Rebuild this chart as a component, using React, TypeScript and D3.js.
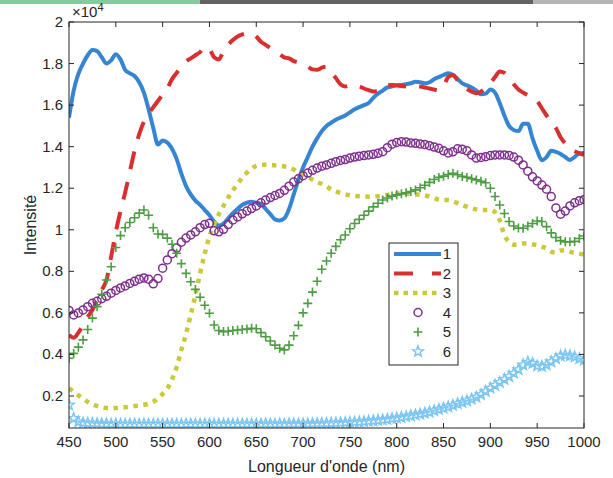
import React from "react";
import * as d3 from "d3";

// wavelengths (nm), one sample every 5 nm
const wavelengths = d3.range(450, 1001, 5);

// intensities, x10^4
const series1 = [
  1.54, 1.67, 1.75, 1.80, 1.84, 1.865, 1.86, 1.83, 1.80, 1.815,
  1.845, 1.82, 1.77, 1.753, 1.74, 1.71, 1.66, 1.58, 1.49, 1.41,
  1.43, 1.42, 1.39, 1.34, 1.27, 1.21, 1.17, 1.14, 1.12, 1.095,
  1.07, 1.04, 1.02, 1.03, 1.055, 1.08, 1.10, 1.12, 1.13, 1.135,
  1.13, 1.125, 1.10, 1.075, 1.05, 1.045, 1.055, 1.10, 1.17, 1.24,
  1.30, 1.35, 1.40, 1.44, 1.475, 1.50, 1.515, 1.53, 1.54, 1.55,
  1.565, 1.58, 1.59, 1.60, 1.61, 1.635, 1.655, 1.67, 1.685, 1.69,
  1.695, 1.697, 1.70, 1.705, 1.712, 1.71, 1.705, 1.71, 1.725, 1.735,
  1.745, 1.753, 1.745, 1.725, 1.705, 1.695, 1.685, 1.67, 1.652, 1.655,
  1.675, 1.66, 1.61, 1.55, 1.50, 1.48, 1.475, 1.51, 1.51, 1.44,
  1.38, 1.335, 1.35, 1.38, 1.375, 1.365, 1.35, 1.336, 1.35, 1.368,
  1.37,
];
const series2 = [
  0.494, 0.48, 0.505, 0.54, 0.58, 0.614, 0.66, 0.71, 0.758, 0.87,
  0.99, 1.09, 1.18, 1.28, 1.38, 1.46, 1.52, 1.56, 1.59, 1.62,
  1.65, 1.68, 1.725, 1.755, 1.785, 1.81, 1.825, 1.84, 1.855, 1.88,
  1.87, 1.83, 1.82, 1.86, 1.89, 1.913, 1.93, 1.94, 1.945, 1.946,
  1.93, 1.905, 1.89, 1.875, 1.86, 1.845, 1.83, 1.825, 1.812, 1.805,
  1.795, 1.785, 1.772, 1.77, 1.78, 1.785, 1.76, 1.73, 1.70, 1.69,
  1.695, 1.697, 1.69, 1.68, 1.672, 1.665, 1.667, 1.68, 1.695, 1.697,
  1.695, 1.692, 1.69, 1.688, 1.69, 1.689, 1.685, 1.68, 1.675, 1.672,
  1.69, 1.735, 1.745, 1.72, 1.695, 1.678, 1.665, 1.657, 1.665, 1.685,
  1.705, 1.735, 1.762, 1.755, 1.73, 1.70, 1.675, 1.66, 1.648, 1.635,
  1.62, 1.585, 1.55, 1.52, 1.49, 1.445, 1.415, 1.39, 1.378, 1.368,
  1.36,
];
const series3 = [
  0.237, 0.22, 0.203, 0.187, 0.172, 0.16, 0.152, 0.146, 0.142, 0.141,
  0.142, 0.144, 0.146, 0.149, 0.152, 0.155, 0.158, 0.163, 0.172, 0.188,
  0.21, 0.235, 0.28, 0.34, 0.422, 0.50, 0.59, 0.686, 0.79, 0.885,
  0.967, 1.025, 1.075, 1.115, 1.155, 1.19, 1.22, 1.25, 1.275, 1.295,
  1.308, 1.312, 1.313, 1.312, 1.31, 1.308, 1.305, 1.30, 1.29, 1.278,
  1.264, 1.253, 1.242, 1.23, 1.22, 1.208, 1.195, 1.185, 1.177, 1.17,
  1.167, 1.164, 1.161, 1.16, 1.159, 1.16, 1.162, 1.165, 1.168, 1.171,
  1.174, 1.175, 1.174, 1.172, 1.17, 1.168, 1.165, 1.16, 1.152, 1.145,
  1.143, 1.143, 1.137, 1.128, 1.118, 1.111, 1.104, 1.098, 1.095, 1.095,
  1.095, 1.085, 1.045, 0.975, 0.94, 0.928, 0.93, 0.934, 0.934, 0.93,
  0.926, 0.918, 0.911, 0.895, 0.89, 0.9, 0.902, 0.895, 0.888, 0.885,
  0.88,
];
const series4 = [
  0.612, 0.59, 0.60, 0.614, 0.63, 0.646, 0.656, 0.668, 0.68, 0.695,
  0.708, 0.72, 0.73, 0.742, 0.752, 0.762, 0.768, 0.762, 0.74, 0.765,
  0.815, 0.855, 0.885, 0.912, 0.94, 0.96, 0.975, 0.99, 1.01, 1.025,
  1.031, 0.995, 0.99, 1.002, 1.025, 1.047, 1.062, 1.077, 1.09, 1.102,
  1.115, 1.13, 1.143, 1.155, 1.165, 1.175, 1.19, 1.21, 1.23, 1.245,
  1.26, 1.273, 1.286, 1.297, 1.306, 1.312, 1.32, 1.328, 1.334, 1.338,
  1.345, 1.35, 1.354, 1.357, 1.36, 1.363, 1.368, 1.376, 1.395, 1.412,
  1.42, 1.424, 1.422, 1.418, 1.416, 1.413, 1.41, 1.405, 1.398, 1.392,
  1.38, 1.37, 1.375, 1.39, 1.388, 1.38, 1.36, 1.345, 1.348, 1.352,
  1.357, 1.36, 1.36, 1.36, 1.358, 1.35, 1.335, 1.312, 1.282, 1.255,
  1.235, 1.215, 1.195, 1.16, 1.105, 1.075, 1.09, 1.115, 1.13, 1.14,
  1.145,
];
const series5 = [
  0.382, 0.405, 0.435, 0.47, 0.52, 0.575, 0.63, 0.69, 0.758, 0.822,
  0.915, 0.972, 1.01, 1.035, 1.058, 1.08, 1.095, 1.07, 1.01, 0.98,
  0.978, 0.96, 0.93, 0.887, 0.837, 0.79, 0.75, 0.713, 0.675, 0.637,
  0.598, 0.542, 0.515, 0.51, 0.512, 0.515, 0.518, 0.52, 0.522, 0.526,
  0.524, 0.505, 0.485, 0.465, 0.445, 0.43, 0.422, 0.445, 0.49, 0.54,
  0.6, 0.646, 0.7, 0.752, 0.81, 0.85, 0.887, 0.92, 0.952, 0.975,
  1.005, 1.03, 1.05, 1.07, 1.09, 1.11, 1.128, 1.143, 1.153, 1.162,
  1.168, 1.173, 1.178, 1.184, 1.192, 1.202, 1.214, 1.228, 1.242, 1.252,
  1.258, 1.266, 1.272, 1.265, 1.257, 1.252, 1.246, 1.24, 1.233, 1.226,
  1.2, 1.16, 1.119, 1.078, 1.04, 1.018, 1.008, 1.007, 1.018, 1.03,
  1.042, 1.04, 1.015, 0.985, 0.963, 0.948, 0.942, 0.942, 0.944, 0.958,
  0.97,
];
const series6 = [
  0.157, 0.092, 0.076, 0.071, 0.069, 0.068, 0.067, 0.066, 0.066, 0.065,
  0.065, 0.065, 0.064, 0.065, 0.065, 0.064, 0.065, 0.065, 0.064, 0.065,
  0.065, 0.064, 0.065, 0.065, 0.064, 0.065, 0.065, 0.065, 0.064, 0.065,
  0.065, 0.064, 0.065, 0.065, 0.065, 0.064, 0.065, 0.065, 0.065, 0.065,
  0.065, 0.065, 0.066, 0.065, 0.065, 0.066, 0.065, 0.066, 0.066, 0.066,
  0.066, 0.066, 0.067, 0.067, 0.068, 0.068, 0.069, 0.07, 0.071, 0.072,
  0.073, 0.074, 0.075, 0.077, 0.079, 0.081, 0.083, 0.085, 0.088, 0.091,
  0.094, 0.097, 0.101, 0.105, 0.109, 0.113, 0.118, 0.123, 0.13, 0.136,
  0.142, 0.148, 0.155, 0.163, 0.17, 0.177, 0.185, 0.195, 0.207, 0.222,
  0.238, 0.252, 0.266, 0.28, 0.294, 0.31, 0.327, 0.35, 0.363, 0.357,
  0.345, 0.343, 0.35, 0.365, 0.38, 0.393, 0.397, 0.394, 0.388, 0.38,
  0.373,
];

const xTicks = [450, 500, 550, 600, 650, 700, 750, 800, 850, 900, 950, 1000];
const yTicks = [0.2, 0.4, 0.6, 0.8, 1, 1.2, 1.4, 1.6, 1.8, 2];
const legendLabels = ["1", "2", "3", "4", "5", "6"];

const W = 613;
const H = 478;
const box = { left: 69, right: 584, top: 22, bottom: 428 };
const font = "'Liberation Sans', Arial, sans-serif";
const ink = "#262626";

const c1 = "#3585d2";
const c2 = "#d8302f";
const c3 = "#c9c93a";
const c4 = "#7e2f8e";
const c5 = "#4e9d44";
const c6 = "#7dc6f2";

const starPath = (r: number) => {
  const pts: string[] = [];
  for (let i = 0; i < 10; i++) {
    const rad = i % 2 === 0 ? r : r * 0.42;
    const a = -Math.PI / 2 + (i * Math.PI) / 5;
    pts.push(`${(rad * Math.cos(a)).toFixed(2)},${(rad * Math.sin(a)).toFixed(2)}`);
  }
  return "M" + pts.join("L") + "Z";
};
const plus = "M-4.5,0H4.5M0,-4.5V4.5";

export default function App() {
  const x = d3.scaleLinear().domain([450, 1000]).range([box.left, box.right]);
  const y = d3.scaleLinear().domain([0.046, 2]).range([box.bottom, box.top]);

  const pts = (vals: number[]) => wavelengths.map((w, i) => [w, vals[i]] as [number, number]);
  const line = d3
    .line<[number, number]>()
    .x((d) => x(d[0]))
    .y((d) => y(d[1]))
    .curve(d3.curveMonotoneX);

  const star = starPath(5.5);
  const legX = 389;
  const legY = 243;
  const rowY = (i: number) => legY + 11 + i * 19.5;

  return (
    <svg
      width={W}
      height={H}
      style={{ position: "absolute", left: 0, top: 0, background: "#fff" }}
      fontFamily={font}
    >
      {/* screenshot strip at the top */}
      <rect x={0} y={0} width={200} height={4} fill="#86c99b" />
      <rect x={200} y={0} width={333} height={4} fill="#626262" />
      <rect x={533} y={0} width={80} height={4} fill="#b4b4b4" />

      <defs>
        <clipPath id="plot">
          <rect x={box.left} y={box.top} width={box.right - box.left} height={box.bottom - box.top} />
        </clipPath>
      </defs>

      <g clipPath="url(#plot)">
        <path d={line(pts(series1)) || ""} fill="none" stroke={c1} strokeWidth={4} />
        <path
          d={line(pts(series2)) || ""}
          fill="none"
          stroke={c2}
          strokeWidth={4}
          strokeDasharray="18 13"
        />
        <path
          d={line(pts(series3)) || ""}
          fill="none"
          stroke={c3}
          strokeWidth={4.5}
          strokeDasharray="4.5 5.5"
        />
        {pts(series4).map((d, i) => (
          <circle key={"c" + i} cx={x(d[0])} cy={y(d[1])} r={4} fill="none" stroke={c4} strokeWidth={1.5} />
        ))}
        {pts(series5).map((d, i) => (
          <path
            key={"p" + i}
            d={plus}
            transform={`translate(${x(d[0])},${y(d[1])})`}
            stroke={c5}
            strokeWidth={1.6}
          />
        ))}
        {pts(series6).map((d, i) => (
          <path
            key={"s" + i}
            d={star}
            transform={`translate(${x(d[0])},${y(d[1])})`}
            fill="none"
            stroke={c6}
            strokeWidth={1.5}
          />
        ))}
      </g>

      {/* axes box */}
      <rect
        x={box.left}
        y={box.top}
        width={box.right - box.left}
        height={box.bottom - box.top}
        fill="none"
        stroke={ink}
        strokeWidth={1}
      />
      {xTicks.map((t) => (
        <g key={"xt" + t}>
          <line x1={x(t)} x2={x(t)} y1={box.bottom} y2={box.bottom - 5} stroke={ink} />
          <line x1={x(t)} x2={x(t)} y1={box.top} y2={box.top + 5} stroke={ink} />
          <text x={x(t)} y={box.bottom + 19} textAnchor="middle" fontSize={15} fill={ink}>
            {t}
          </text>
        </g>
      ))}
      {yTicks.map((t) => (
        <g key={"yt" + t}>
          <line x1={box.left} x2={box.left + 5} y1={y(t)} y2={y(t)} stroke={ink} />
          <line x1={box.right} x2={box.right - 5} y1={y(t)} y2={y(t)} stroke={ink} />
          <text x={box.left - 6} y={y(t) + 5} textAnchor="end" fontSize={15} fill={ink}>
            {d3.format("~g")(t)}
          </text>
        </g>
      ))}

      <text x={72} y={17} fontSize={15} fill={ink}>
        ×10
        <tspan dy={-6} fontSize={11}>
          4
        </tspan>
      </text>

      <text x={(box.left + box.right) / 2} y={472} textAnchor="middle" fontSize={16} fill={ink}>
        Longueur d'onde (nm)
      </text>
      <text
        transform={`translate(36,${(box.top + box.bottom) / 2}) rotate(-90)`}
        textAnchor="middle"
        fontSize={16}
        fill={ink}
      >
        Intensité
      </text>

      {/* legend */}
      <rect x={legX} y={legY} width={69} height={122} fill="#fff" stroke={ink} strokeWidth={1} />
      {legendLabels.map((lab, i) => (
        <text key={"lt" + i} x={legX + 58} y={rowY(i) + 5} fontSize={15} textAnchor="middle" fill={ink}>
          {lab}
        </text>
      ))}
      <line x1={legX + 5} x2={legX + 52} y1={rowY(0)} y2={rowY(0)} stroke={c1} strokeWidth={4} />
      <line
        x1={legX + 5}
        x2={legX + 52}
        y1={rowY(1)}
        y2={rowY(1)}
        stroke={c2}
        strokeWidth={4}
        strokeDasharray="19 19"
      />
      <line
        x1={legX + 5}
        x2={legX + 52}
        y1={rowY(2)}
        y2={rowY(2)}
        stroke={c3}
        strokeWidth={4.5}
        strokeDasharray="4.5 5"
      />
      <circle cx={legX + 29} cy={rowY(3)} r={4} fill="none" stroke={c4} strokeWidth={1.5} />
      <path d={plus} transform={`translate(${legX + 29},${rowY(4)})`} stroke={c5} strokeWidth={1.6} />
      <path d={star} transform={`translate(${legX + 29},${rowY(5)})`} fill="none" stroke={c6} strokeWidth={1.5} />
    </svg>
  );
}
